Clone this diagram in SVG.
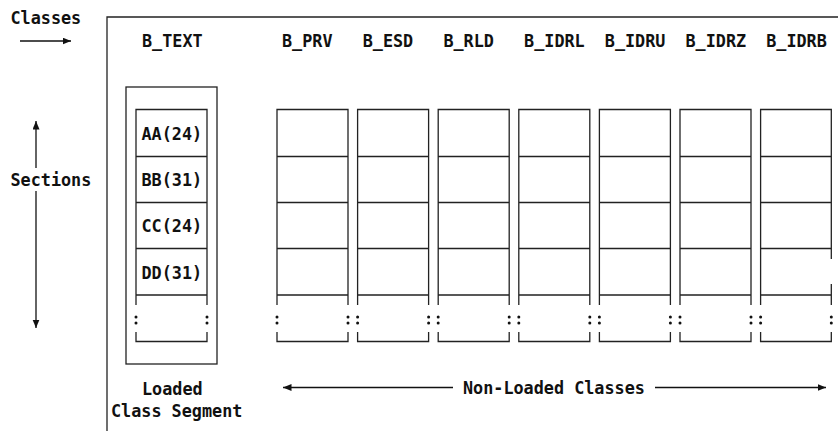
<svg xmlns="http://www.w3.org/2000/svg" width="838" height="431" viewBox="0 0 838 431">
<style>
.ln{stroke:#222;stroke-width:1.3;fill:none}
.t{font-family:"DejaVu Sans Mono","Liberation Mono",monospace;font-weight:bold;font-size:16.8px;fill:#111}
.d{fill:#111}
.ar{stroke:#111;stroke-width:1.3;fill:none;marker-end:url(#ah)}
</style>
<defs>
<marker id="ah" markerUnits="userSpaceOnUse" markerWidth="9" markerHeight="8" refX="8.5" refY="3.5" orient="auto">
<path d="M0,0 L8.5,3.5 L0,7 Z" fill="#111"/>
</marker>
</defs>
<rect width="838" height="431" fill="#fff"/>

<g id="frame">
<path class="ln" d="M838,17 H107 V431"/>
</g>

<g id="classes-label">
<text class="t" x="10.5" y="24">Classes</text>
</g>
<g id="sections-label">
<text class="t" x="10.5" y="186">Sections</text>
</g>

<g id="loaded-class-segment">
<rect class="ln" x="126" y="87" width="91" height="277"/>
<text class="t" x="142" y="47">B_TEXT</text>
<path class="ln" d="M136,305 V109.5 H207 V305 M136,156.5 H207 M136,202.5 H207 M136,248.5 H207 M136,295 H207 M136,332 V341.5 H207 V332"/>
<circle class="d" cx="136" cy="317" r="1.5"/><circle class="d" cx="136" cy="323" r="1.5"/>
<circle class="d" cx="207" cy="317" r="1.5"/><circle class="d" cx="207" cy="323" r="1.5"/>
<text class="t" x="141.5" y="139.5">AA(24)</text>
<text class="t" x="141.5" y="186">BB(31)</text>
<text class="t" x="141.5" y="232.3">CC(24)</text>
<text class="t" x="141.5" y="278.7">DD(31)</text>
<text class="t" x="142" y="395">Loaded</text>
<text class="t" x="111" y="417">Class Segment</text>
</g>

<g id="B_PRV">
<text class="t" x="282" y="47">B_PRV</text>
<path class="ln" d="M277,305 V109.5 H348 V305 M277,156.5 H348 M277,202.5 H348 M277,248.5 H348 M277,295 H348 M277,332 V341.5 H348 V332"/>
<circle class="d" cx="277" cy="317" r="1.5"/><circle class="d" cx="277" cy="323" r="1.5"/>
<circle class="d" cx="348" cy="317" r="1.5"/><circle class="d" cx="348" cy="323" r="1.5"/>
</g>
<g id="B_ESD">
<text class="t" x="362.7" y="47">B_ESD</text>
<path class="ln" d="M357.6,305 V109.5 H428.6 V305 M357.6,156.5 H428.6 M357.6,202.5 H428.6 M357.6,248.5 H428.6 M357.6,295 H428.6 M357.6,332 V341.5 H428.6 V332"/>
<circle class="d" cx="357.6" cy="317" r="1.5"/><circle class="d" cx="357.6" cy="323" r="1.5"/>
<circle class="d" cx="428.6" cy="317" r="1.5"/><circle class="d" cx="428.6" cy="323" r="1.5"/>
</g>
<g id="B_RLD">
<text class="t" x="443.4" y="47">B_RLD</text>
<path class="ln" d="M438.2,305 V109.5 H509.2 V305 M438.2,156.5 H509.2 M438.2,202.5 H509.2 M438.2,248.5 H509.2 M438.2,295 H509.2 M438.2,332 V341.5 H509.2 V332"/>
<circle class="d" cx="438.2" cy="317" r="1.5"/><circle class="d" cx="438.2" cy="323" r="1.5"/>
<circle class="d" cx="509.2" cy="317" r="1.5"/><circle class="d" cx="509.2" cy="323" r="1.5"/>
</g>
<g id="B_IDRL">
<text class="t" x="524.1" y="47">B_IDRL</text>
<path class="ln" d="M518.8,305 V109.5 H589.8 V305 M518.8,156.5 H589.8 M518.8,202.5 H589.8 M518.8,248.5 H589.8 M518.8,295 H589.8 M518.8,332 V341.5 H589.8 V332"/>
<circle class="d" cx="518.8" cy="317" r="1.5"/><circle class="d" cx="518.8" cy="323" r="1.5"/>
<circle class="d" cx="589.8" cy="317" r="1.5"/><circle class="d" cx="589.8" cy="323" r="1.5"/>
</g>
<g id="B_IDRU">
<text class="t" x="604.8" y="47">B_IDRU</text>
<path class="ln" d="M599.4,305 V109.5 H670.4 V305 M599.4,156.5 H670.4 M599.4,202.5 H670.4 M599.4,248.5 H670.4 M599.4,295 H670.4 M599.4,332 V341.5 H670.4 V332"/>
<circle class="d" cx="599.4" cy="317" r="1.5"/><circle class="d" cx="599.4" cy="323" r="1.5"/>
<circle class="d" cx="670.4" cy="317" r="1.5"/><circle class="d" cx="670.4" cy="323" r="1.5"/>
</g>
<g id="B_IDRZ">
<text class="t" x="685.5" y="47">B_IDRZ</text>
<path class="ln" d="M680,305 V109.5 H751 V305 M680,156.5 H751 M680,202.5 H751 M680,248.5 H751 M680,295 H751 M680,332 V341.5 H751 V332"/>
<circle class="d" cx="680" cy="317" r="1.5"/><circle class="d" cx="680" cy="323" r="1.5"/>
<circle class="d" cx="751" cy="317" r="1.5"/><circle class="d" cx="751" cy="323" r="1.5"/>
</g>
<g id="B_IDRB">
<text class="t" x="766.2" y="47">B_IDRB</text>
<path class="ln" d="M760.6,305 V109.5 H831.3 V259 M831.3,284 V305 M760.6,156.5 H831.3 M760.6,202.5 H831.3 M760.6,248.5 H831.3 M760.6,295 H831.3 M760.6,332 V341.5 H831.3 V332"/>
<circle class="d" cx="760.6" cy="317" r="1.5"/><circle class="d" cx="760.6" cy="323" r="1.5"/>
<circle class="d" cx="831.3" cy="317" r="1.5"/><circle class="d" cx="831.3" cy="323" r="1.5"/>
</g>

<g id="non-loaded-label">
<text class="t" x="463" y="394">Non-Loaded Classes</text>
</g>

<g id="connectors">
<line class="ar" x1="20" y1="41" x2="71" y2="41"/>
<line class="ar" x1="36" y1="168" x2="36" y2="121"/>
<line class="ar" x1="36" y1="191" x2="36" y2="328"/>
<line class="ar" x1="453" y1="387.5" x2="283" y2="387.5"/>
<line class="ar" x1="655" y1="387.5" x2="826" y2="387.5"/>
</g>
</svg>
